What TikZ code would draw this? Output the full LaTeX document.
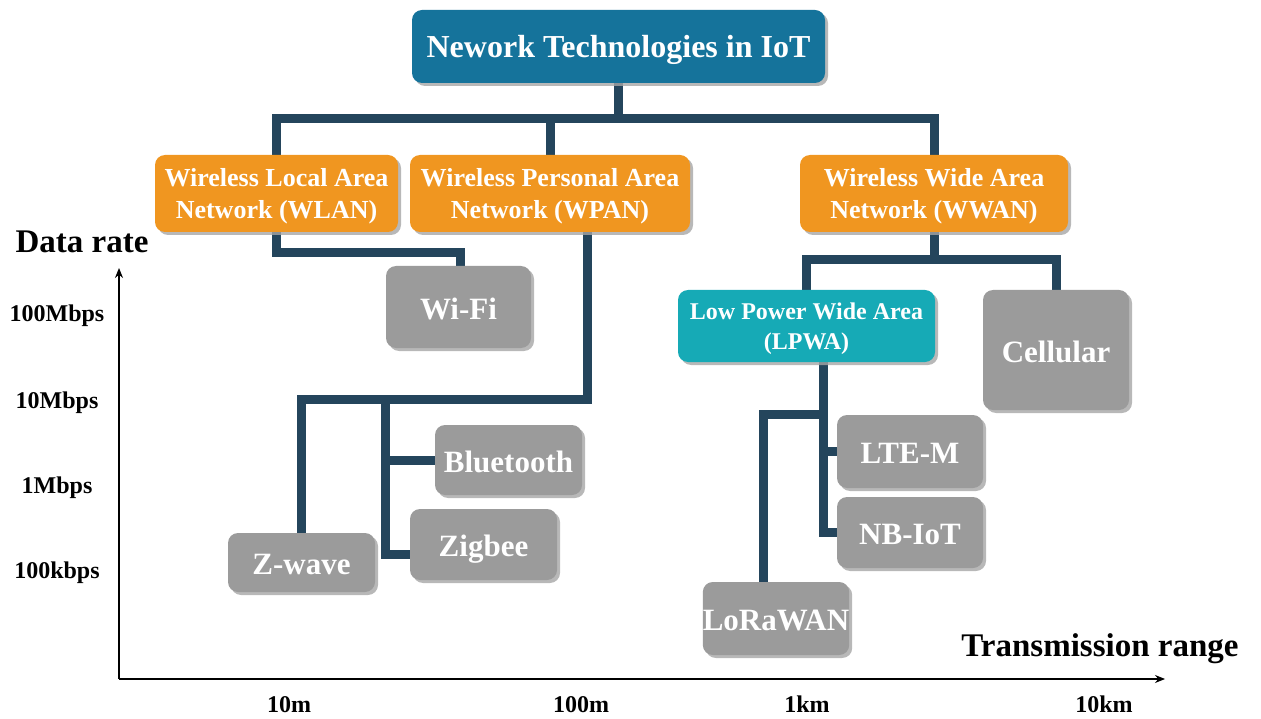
\documentclass[tikz,border=0pt]{standalone}
\usepackage{fontspec}
\setmainfont{Liberation Serif}
\usetikzlibrary{shadows,backgrounds,arrows.meta}
\definecolor{titleblue}{RGB}{21,115,155}
\definecolor{orangebox}{RGB}{240,150,32}
\definecolor{lpwacol}{RGB}{22,170,182}
\definecolor{grayboxcol}{RGB}{155,155,155}
\definecolor{conncol}{RGB}{36,69,92}
\tikzset{
  box/.style={rounded corners=10pt, text=white, align=center, inner sep=0pt,
    drop shadow={shadow xshift=3pt, shadow yshift=-3pt, fill=black!35, opacity=0.8}},
  titlebox/.style={box, fill=titleblue, font=\bfseries\fontsize{32}{38}\selectfont, text height=23pt, text depth=1pt},
  netbox/.style={box, fill=orangebox, font=\bfseries\fontsize{26}{32}\selectfont, text depth=-6pt},
  lpwabox/.style={box, fill=lpwacol, font=\bfseries\fontsize{24}{30}\selectfont, text depth=-6pt},
  techbox/.style={box, fill=grayboxcol, font=\bfseries\fontsize{31}{36}\selectfont, text height=25pt, text depth=0.8pt},
  conn/.style={draw=conncol, line width=9pt, line join=miter},
  axisline/.style={draw=black, line width=1.3pt, -{Stealth[length=10pt,width=8pt]}},
  axislabel/.style={font=\bfseries\fontsize{33}{38}\selectfont, anchor=base},
  ticklabel/.style={font=\bfseries\fontsize{24}{28}\selectfont, anchor=base},
}
\begin{document}
\begin{tikzpicture}[x=1pt,y=-1pt]
\useasboundingbox (0,0) rectangle (1261,719);
% boxes
\node[titlebox, minimum width=413pt, minimum height=73pt] (title) at (618.5,46.5) {Nework Technologies in IoT};
\node[netbox, minimum width=243pt, minimum height=77pt] (wlan) at (276.5,193.5) {Wireless Local Area\\Network (WLAN)};
\node[netbox, minimum width=280pt, minimum height=77pt] (wpan) at (550,193.5) {Wireless Personal Area\\Network (WPAN)};
\node[netbox, minimum width=268pt, minimum height=77pt] (wwan) at (934,193.5) {Wireless Wide Area\\Network (WWAN)};
\node[techbox, minimum width=145pt, minimum height=82pt] (wifi) at (458.5,307) {Wi-Fi};
\node[techbox, minimum width=147pt, minimum height=70pt] (bt) at (508.5,460) {Bluetooth};
\node[techbox, minimum width=147pt, minimum height=71pt] (zig) at (483.5,544.5) {Zigbee};
\node[techbox, minimum width=147pt, minimum height=59pt] (zwave) at (301.5,562.5) {Z-wave};
\node[lpwabox, minimum width=257pt, minimum height=72pt] (lpwa) at (806.5,326) {Low Power Wide Area\\(LPWA)};
\node[techbox, minimum width=146pt, minimum height=120pt] (cell) at (1056,350) {Cellular};
\node[techbox, minimum width=146pt, minimum height=73pt] (ltem) at (910,451.5) {LTE-M};
\node[techbox, minimum width=146pt, minimum height=71pt] (nbiot) at (910,532.5) {NB-IoT};
\node[techbox, minimum width=146pt, minimum height=73pt] (lora) at (776,618.5) {LoRaWAN};
% bend coordinates
\coordinate (hub) at (618,119);
\coordinate (wlb) at (460,253);
\coordinate (wpbend) at (587,399);
\coordinate (wpb) at (385,399);
\coordinate (wwb) at (934,260);
\coordinate (lpb) at (823,414);
\coordinate (lorab) at (763,414);
% connectors
\begin{scope}[on background layer]
\draw[conn] (title.south) -- (title.south |- hub);
\draw[conn] (wlan.north) -- (wlan.north |- hub) -- (wwan.north |- hub) -- (wwan.north);
\draw[conn] (wpan.north) -- (wpan.north |- hub);
\draw[conn] (wlan.south) -- (wlan.south |- wlb) -- (wlb) -- (wifi.north -| wlb);
\draw[conn] (wpan.south -| wpbend) -- (wpbend) -- (zwave.north |- wpbend) -- (zwave.north);
\draw[conn] (wpb) |- (bt.west);
\draw[conn] (wpb) |- ([yshift=-10pt]zig.west);
\draw[conn] (wwan.south) -- (wwb);
\draw[conn] (lpwa.north) -- (lpwa.north |- wwb) -- (cell.north |- wwb) -- (cell.north);
\draw[conn] (lpwa.south -| lpb) -- (lpb |- nbiot.west) -- (nbiot.west);
\draw[conn] (lpb |- ltem.west) -- (ltem.west);
\draw[conn] (lpb) -- (lorab) -- (lorab |- lora.north);
\end{scope}
% axes
\coordinate (origin) at (119,679);
\coordinate (ytip) at (119,268);
\coordinate (xtip) at (1165,679);
\draw[axisline] (origin) -- (ytip);
\draw[axisline] (origin) -- (xtip);
\node[axislabel] (ylab) at (82,253) {Data rate};
\node[axislabel] (xlab) at (1100,656) {Transmission range};
\node[ticklabel] (y1) at (57,322) {100Mbps};
\node[ticklabel] (y2) at (57,408) {10Mbps};
\node[ticklabel] (y3) at (57,493) {1Mbps};
\node[ticklabel] (y4) at (57,578) {100kbps};
\node[ticklabel] (x1) at (289,712) {10m};
\node[ticklabel] (x2) at (581,712) {100m};
\node[ticklabel] (x3) at (807,712) {1km};
\node[ticklabel] (x4) at (1104,712) {10km};
\end{tikzpicture}
\end{document}
